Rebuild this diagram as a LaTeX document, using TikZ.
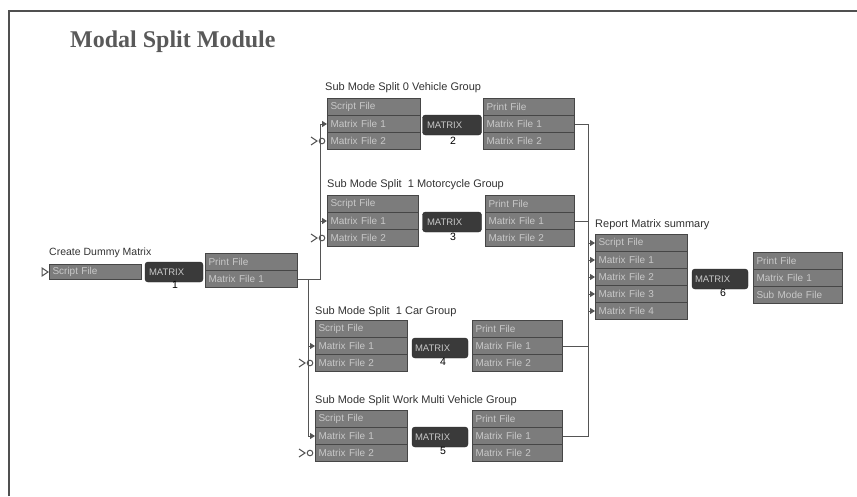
\documentclass[tikz,border=0pt]{standalone}
\usepackage{fontspec}
\setmainfont{Liberation Sans}
\newfontfamily\titlefont{Liberation Serif}
\usetikzlibrary{arrows.meta}
\definecolor{boxfill}{RGB}{124,124,124}
\definecolor{boxline}{RGB}{70,70,70}
\definecolor{boxtext}{RGB}{200,200,200}
\definecolor{mxfill}{RGB}{58,58,58}
\definecolor{wire}{RGB}{85,85,85}
\definecolor{lbl}{RGB}{50,50,50}
\definecolor{framec}{RGB}{80,80,80}
\newcommand\filestack[5]{%
  \foreach \t [count=\i from 0] in {#5}
    \node[filebox=#4] (#1\i) at (#2,#3+17*\i) {\t};}
\begin{document}
\begin{tikzpicture}[x=1pt,y=-1pt,
  filebox/.style={draw=boxline, line width=1pt, fill=boxfill, text=boxtext,
    font=\fontsize{10}{10}\selectfont, anchor=north west, minimum height=17pt,
    inner xsep=3pt, inner ysep=0pt, text width=#1, align=left},
  mx/.style={fill=mxfill, draw=black!85, rounded corners=3pt, text=boxtext,
    font=\fontsize{9.5}{9.5}\selectfont, minimum height=20pt, inner xsep=3pt,
    text width=50pt, align=left},
  num/.style={font=\fontsize{10.5}{10.5}\selectfont, text=black, inner sep=0pt},
  grplabel/.style={font=\fontsize{11}{11}\selectfont, text=lbl, anchor=west, inner sep=0pt},
  wireline/.style={draw=wire, line width=1pt},
  inarrow/.style={wireline, -{Triangle[length=5pt,width=6pt]}},
]
\useasboundingbox (0,0) rectangle (857,496);
\draw[line width=1.6pt, draw=framec] (9,496) -- (9,11) -- (857,11);

\node[font=\titlefont\fontsize{24}{24}\selectfont\bfseries, text=black!65,
  anchor=base west, inner sep=0pt] (title) at (70,47) {Modal Split Module};

% Create Dummy Matrix
\node[grplabel, font=\fontsize{10.5}{10.5}\selectfont] (cdlab) at (49,253) {Create Dummy Matrix};
\node[filebox=86pt, minimum height=15pt] (cds) at (49,264) {Script File};
\node[mx, minimum width=58pt] (m1) at (174,272) {MATRIX};
\node[num] (n1) at (175,285) {1};
\filestack{cdr}{205}{253}{86pt}{Print File, Matrix File 1}

% Group 0 vehicle
\node[grplabel] (g0lab) at (325,88) {Sub Mode Split 0 Vehicle Group};
\filestack{g0l}{327}{98}{87pt}{Script File, Matrix File 1, Matrix File 2}
\node[mx, minimum width=59pt] (m2) at (452,125) {MATRIX};
\node[num] (n2) at (453,141) {2};
\filestack{g0r}{483}{98}{85pt}{Print File, Matrix File 1, Matrix File 2}

% Group 1 motorcycle
\node[grplabel] (g1lab) at (327,185) {Sub Mode Split\ \ 1 Motorcycle Group};
\filestack{g1l}{327}{195}{85pt}{Script File, Matrix File 1, Matrix File 2}
\node[mx, minimum width=59pt] (m3) at (452,222) {MATRIX};
\node[num] (n3) at (453,237) {3};
\filestack{g1r}{485}{195}{83pt}{Print File, Matrix File 1, Matrix File 2}

% Group 1 car
\node[grplabel] (gclab) at (315,312) {Sub Mode Split\ \ 1 Car Group};
\filestack{gcl}{315}{320}{86pt}{Script File, Matrix File 1, Matrix File 2}
\node[mx, minimum width=56pt] (m4) at (440,348) {MATRIX};
\node[num] (n4) at (443,362) {4};
\filestack{gcr}{472}{320}{84pt}{Print File, Matrix File 1, Matrix File 2}

% Group work multi vehicle
\node[grplabel] (gwlab) at (315,401) {Sub Mode Split Work Multi Vehicle Group};
\filestack{gwl}{315}{410}{86pt}{Script File, Matrix File 1, Matrix File 2}
\node[mx, minimum width=56pt] (m5) at (440,437) {MATRIX};
\node[num] (n5) at (443,451) {5};
\filestack{gwr}{472}{410}{84pt}{Print File, Matrix File 1, Matrix File 2}

% Report matrix summary
\node[grplabel] (rlab) at (595,225) {Report Matrix summary};
\filestack{rl}{595}{234}{86pt}{Script File, Matrix File 1, Matrix File 2, Matrix File 3, Matrix File 4}
\node[mx, minimum width=56pt] (m6) at (720,279) {MATRIX};
\node[num] (n6) at (723,293) {6};
\filestack{rr}{753}{252}{83pt}{Print File, Matrix File 1, Sub Mode File}

% input marker of Create Dummy Matrix
\draw[wireline, fill=white] ([xshift=-7pt,yshift=4pt]cds.west) -- ([xshift=-1pt]cds.west)
  -- ([xshift=-7pt,yshift=-4pt]cds.west) -- cycle;

% distribution from Create Dummy Matrix
\draw[inarrow] (cdr1.east) -- ++(22,0) |- (g0l1.west);
\draw[inarrow] (cdr1.east) -- ++(22,0) |- (g1l1.west);
\draw[inarrow] (cdr1.east) -- ++(10,0) |- (gcl1.west);
\draw[inarrow] (cdr1.east) -- ++(10,0) |- (gwl1.west);

% unconnected Matrix File 2 inputs
\foreach \g in {g0l2, g1l2, gcl2, gwl2}{
  \draw[wireline] ([xshift=-16pt,yshift=4pt]\g.west) -- ([xshift=-10pt]\g.west)
    -- ([xshift=-16pt,yshift=-4pt]\g.west);
  \draw[wireline] ([xshift=-5pt]\g.west) circle (2.8pt);
}

% collection bus to report
\draw[wireline] (g0r1.east) -- ++(13,0) coordinate (bus) |- (gwr1.east);
\draw[wireline] (g1r1.east) -- (g1r1.east -| bus);
\draw[wireline] (gcr1.east) -- (gcr1.east -| bus);
\foreach \i in {0,...,4}{
  \draw[inarrow] (rl\i.west -| bus) -- (rl\i.west);
}
\end{tikzpicture}
\end{document}
